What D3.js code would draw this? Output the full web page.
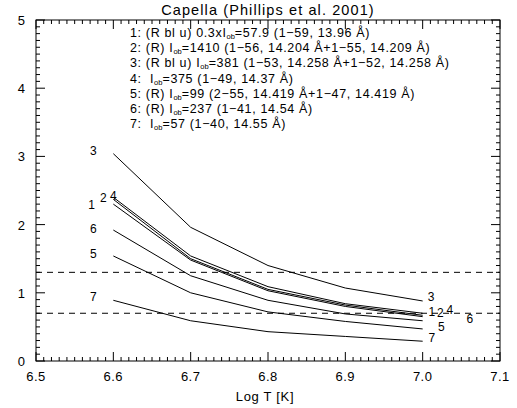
<!DOCTYPE html>
<meta charset="utf-8">
<title>Capella</title>
<script src="https://d3js.org/d3.v7.min.js"></script>
<style>
  body { margin: 0; background: #fff; }
  text { font-family: "Liberation Sans", Arial, sans-serif; fill: #000; white-space: pre; }
</style>
<div id="chart"></div>
<script>
  // data
  const logT = [6.6, 6.7, 6.8, 6.9, 7.0];
  const ratio1 = [2.30, 1.48, 1.03, 0.80, 0.65];
  const ratio2 = [2.37, 1.50, 1.05, 0.82, 0.67];
  const ratio3 = [3.04, 1.96, 1.40, 1.07, 0.88];
  const ratio4 = [2.40, 1.54, 1.09, 0.84, 0.70];
  const ratio5 = [1.54, 1.00, 0.72, 0.58, 0.47];
  const ratio6 = [1.92, 1.25, 0.89, 0.69, 0.59];
  const ratio7 = [0.89, 0.59, 0.43, 0.36, 0.29];
  const dashedLevels = [1.3, 0.7];

  const xTicks = [6.5, 6.6, 6.7, 6.8, 6.9, 7.0, 7.1];
  const yTicks = [0, 1, 2, 3, 4, 5];

  // legend rows: [before subscript, subscript, after]
  const legendRows = [
    ["1: (R bl u) 0.3xI", "ob", "=57.9 (1\u221259, 13.96 \u00c5)"],
    ["2: (R) I", "ob", "=1410 (1\u221256, 14.204 \u00c5+1\u221255, 14.209 \u00c5)"],
    ["3: (R bl u) I", "ob", "=381 (1\u221253, 14.258 \u00c5+1\u221252, 14.258 \u00c5)"],
    ["4:  I", "ob", "=375 (1\u221249, 14.37 \u00c5)"],
    ["5: (R) I", "ob", "=99 (2\u221255, 14.419 \u00c5+1\u221247, 14.419 \u00c5)"],
    ["6: (R) I", "ob", "=237 (1\u221241, 14.54 \u00c5)"],
    ["7:  I", "ob", "=57 (1\u221240, 14.55 \u00c5)"]
  ];

  // curve number labels (data coords)
  const curveLabels = [
    { t: "3", x: 6.574, y: 3.09 }, { t: "1", x: 6.572, y: 2.30 },
    { t: "2", x: 6.587, y: 2.40 }, { t: "4", x: 6.600, y: 2.43 },
    { t: "6", x: 6.574, y: 1.95 }, { t: "5", x: 6.574, y: 1.57 },
    { t: "7", x: 6.574, y: 0.94 },
    { t: "3", x: 7.011, y: 0.94 }, { t: "1", x: 7.012, y: 0.73 },
    { t: "2", x: 7.023, y: 0.71 }, { t: "4", x: 7.035, y: 0.75 },
    { t: "5", x: 7.024, y: 0.50 }, { t: "6", x: 7.061, y: 0.63 },
    { t: "7", x: 7.012, y: 0.35 }
  ];

  const W = 517, H = 408;
  const m = { left: 36, right: 500, top: 20, bottom: 361 };

  const svg = d3.select("#chart").append("svg")
    .attr("width", W).attr("height", H);

  const x = d3.scaleLinear().domain([6.5, 7.1]).range([m.left, m.right]);
  const y = d3.scaleLinear().domain([0, 5]).range([m.bottom, m.top]);

  // frame
  svg.append("rect")
    .attr("x", m.left).attr("y", m.top)
    .attr("width", m.right - m.left).attr("height", m.bottom - m.top)
    .attr("fill", "none").attr("stroke", "#000").attr("stroke-width", 1);

  // ticks, inward on all four sides
  const xMinor = d3.range(650, 711).map(d => d / 100);
  const yMinor = d3.range(0, 51).map(d => d / 10);
  const tk = svg.append("g").attr("stroke", "#000").attr("stroke-width", 1);
  xMinor.forEach(v => {
    const major = Math.abs(v * 10 - Math.round(v * 10)) < 1e-6;
    const len = major ? 9 : 4;
    tk.append("line").attr("x1", x(v)).attr("x2", x(v)).attr("y1", m.bottom).attr("y2", m.bottom - len);
    tk.append("line").attr("x1", x(v)).attr("x2", x(v)).attr("y1", m.top).attr("y2", m.top + len);
  });
  yMinor.forEach(v => {
    const major = Math.abs(v - Math.round(v)) < 1e-6;
    const len = major ? 9 : 4;
    tk.append("line").attr("y1", y(v)).attr("y2", y(v)).attr("x1", m.left).attr("x2", m.left + len);
    tk.append("line").attr("y1", y(v)).attr("y2", y(v)).attr("x1", m.right).attr("x2", m.right - len);
  });

  svg.selectAll(".xl").data(xTicks).join("text")
    .attr("x", d => x(d)).attr("y", m.bottom + 20)
    .attr("text-anchor", "middle").style("font-size", "13px")
    .style("letter-spacing", "0.5px")
    .text(d => d.toFixed(1));
  svg.selectAll(".yl").data(yTicks).join("text")
    .attr("x", m.left - 11).attr("y", d => y(d) + 5)
    .attr("text-anchor", "end").style("font-size", "13px")
    .text(d => d);

  svg.append("text").attr("x", (m.left + m.right) / 2 - 3).attr("y", 401)
    .attr("text-anchor", "middle").style("font-size", "13px")
    .style("letter-spacing", "0.7px").text("Log T [K]");
  svg.append("text").attr("x", 268).attr("y", 15)
    .attr("text-anchor", "middle").style("font-size", "14.5px")
    .style("letter-spacing", "1.1px")
    .text("Capella (Phillips et al. 2001)");

  // dashed reference lines
  svg.selectAll(".dash").data(dashedLevels).join("line")
    .attr("x1", m.left).attr("x2", m.right)
    .attr("y1", d => y(d)).attr("y2", d => y(d))
    .attr("stroke", "#000").attr("stroke-dasharray", "6,5");

  // curves
  const line = d3.line().x((d, i) => x(logT[i])).y(d => y(d));
  [ratio1, ratio2, ratio3, ratio4, ratio5, ratio6, ratio7].forEach(s => {
    svg.append("path").attr("d", line(s))
      .attr("fill", "none").attr("stroke", "#000").attr("stroke-width", 1);
  });

  svg.selectAll(".cl").data(curveLabels).join("text")
    .attr("x", d => x(d.x)).attr("y", d => y(d.y) + 4.5)
    .attr("text-anchor", "middle").style("font-size", "12px")
    .text(d => d.t);

  // legend
  legendRows.forEach((r, i) => {
    const t = svg.append("text").attr("x", 130).attr("y", 37 + i * 15.2)
      .style("font-size", "12.5px").style("letter-spacing", "0.65px");
    t.append("tspan").text(r[0]);
    t.append("tspan").attr("dy", 2).style("font-size", "7.5px")
      .style("letter-spacing", "0px").text(r[1]);
    t.append("tspan").attr("dy", -2).text(r[2]);
  });
</script>
